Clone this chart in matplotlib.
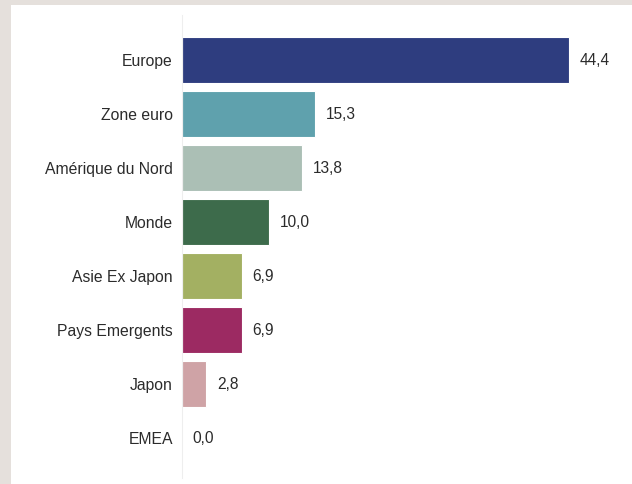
import matplotlib.pyplot as plt
from matplotlib.patches import Rectangle

# Regional values
regions = ['Europe', 'Zone euro', 'Amérique du Nord', 'Monde',
           'Asie Ex Japon', 'Pays Emergents', 'Japon', 'EMEA']
values = [44.4, 15.3, 13.8, 10.0, 6.9, 6.9, 2.8, 0.0]
colors = ['#2e3d7f', '#5fa1ad', '#abbfb5', '#3d6b4b',
          '#a3b062', '#9c2a62', '#cfa3a6', '#dddddd']

plt.rcParams['font.family'] = ['Liberation Sans', 'DejaVu Sans']

W, H = 632, 484
fig = plt.figure(figsize=(W / 100, H / 100), dpi=100)
fig.patch.set_facecolor('#e5e0dc')
# white panel behind the axes
fig.patches.append(Rectangle((11 / W, 0), 1 - 11 / W, 1 - 5 / H,
                             transform=fig.transFigure, facecolor='white',
                             edgecolor='none', zorder=-10))

ax = fig.add_axes([182 / W, 6 / H, (622 - 182) / W, (478 - 15) / H])
ax.set_facecolor('none')

y = list(range(len(regions)))
ax.barh(y, values, height=0.85, color=colors, edgecolor='#ffffff',
        linewidth=0.8, alpha=1)

for yi, v in zip(y, values):
    ax.annotate(f'{v:.1f}'.replace('.', ','), (v, yi), xytext=(7.5, -0.5),
                textcoords='offset points', va='center', ha='left',
                fontsize=11.2, color='#2b2b2b')

ax.set_yticks(y)
ax.set_yticklabels(regions, fontsize=11.3, color='#2b2b2b')
ax.tick_params(axis='y', length=0, pad=6.5)
ax.set_xticks([])
ax.set_xlim(0, (622 - 182) / 8.72)
ax.set_ylim(7.74, -0.833)

for s in ['top', 'right', 'bottom']:
    ax.spines[s].set_visible(False)
ax.spines['left'].set_color('#eeeeee')
ax.spines['left'].set_linewidth(0.8)

fig.savefig('out.png', dpi=100)
